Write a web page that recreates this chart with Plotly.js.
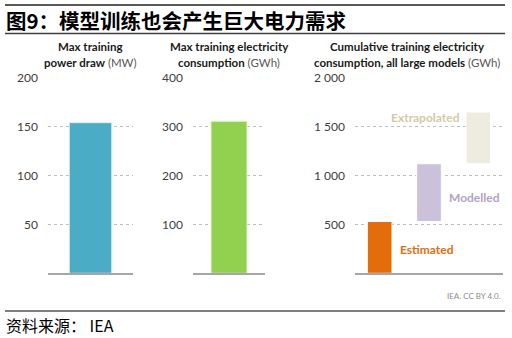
<!DOCTYPE html>
<html><head><meta charset="utf-8">
<script src="https://cdn.plot.ly/plotly-3.0.1.min.js"></script>
<style>html,body{margin:0;padding:0;background:#fff}#chart{width:512px;height:338px}</style>
</head><body><div id="chart"></div>
<script>
// Data
const powerCategory = ["Max power"];
const powerValues = [154];            // MW
const energyCategory = ["Max energy"];
const energyValues = [311];           // GWh
const cumCategories = ["Estimated", "Modelled", "Extrapolated"];
const cumLow = [0, 530, 1120];        // GWh (range bottoms)
const cumHigh = [530, 1120, 1650];    // GWh (range tops)
const powerTicks = [50, 100, 150, 200];
const energyTicks = [100, 200, 300, 400];
const cumTicks = [500, 1000, 1500, 2000];
const cumTickText = ["500", "1 000", "1 500", "2 000"];
const cumColors = ["#e46c0a", "#ccc1da", "#eeece1"];
const cumLabelColors = ["#e46c0a", "#b3a2c7", "#d4caa6"];

const W = 512, H = 338;
const px = v => v / W;
const py = v => 1 - v / H;
const yDom = [py(273.3), py(77.7)];
const font = "Lato, 'Open Sans', sans-serif";

const traces = [
  {type: "bar", x: powerCategory, y: powerValues, xaxis: "x", yaxis: "y",
   width: 0.5, marker: {color: "#4bacc6", line: {color: "#dbeef3", width: 1}}, hoverinfo: "skip"},
  {type: "bar", x: energyCategory, y: energyValues, xaxis: "x2", yaxis: "y2",
   width: 0.5, marker: {color: "#92d050", line: {color: "#e4f3d4", width: 1}}, hoverinfo: "skip"},
  {type: "bar", x: cumCategories, base: cumLow, y: cumHigh.map((h, i) => h - cumLow[i]),
   xaxis: "x3", yaxis: "y3", width: 0.5,
   marker: {color: cumColors, line: {color: "#ffffff", width: 1}}, hoverinfo: "skip"}
];

function yax(range, ticks, text) {
  const a = {range: range, domain: yDom, tickvals: ticks, showgrid: true, gridcolor: "#bfbfbf",
    griddash: "dot", gridwidth: 1, zeroline: false, showline: false, ticks: "",
    ticklabelstandoff: 9, tickfont: {family: font, size: 12, color: "#404040"}, fixedrange: true};
  if (text) a.ticktext = text;
  return a;
}
function xax(domain, anchor, range) {
  const a = {domain: domain, anchor: anchor, showticklabels: false, ticks: "", showgrid: false,
    zeroline: false, showline: true, linecolor: "#a6a6a6", linewidth: 1.5, fixedrange: true};
  if (range) a.range = range;
  return a;
}

const titleFont = {family: font, size: 11.5, color: "#1a1a1a"};
const unit = s => "<span style='font-weight:normal;color:#595959'>" + s + "</span>";
const annotations = [
  {text: "<b>Max training</b>", x: px(90), y: py(47)},
  {text: "<b>power draw</b> " + unit("(MW)"), x: px(90), y: py(63)},
  {text: "<b>Max training electricity</b>", x: px(229), y: py(47)},
  {text: "<b>consumption</b> " + unit("(GWh)"), x: px(229), y: py(63)},
  {text: "<b>Cumulative training electricity</b>", x: px(407), y: py(47)},
  {text: "<b>consumption, all large models</b> " + unit("(GWh)"), x: px(407), y: py(63)}
].map(a => Object.assign({xref: "paper", yref: "paper", showarrow: false, xanchor: "center",
  yanchor: "middle", font: titleFont}, a));

annotations.push(
  {text: "<b>" + cumCategories[2] + "</b>", x: px(462), y: py(117), xanchor: "right", font: {family: font, size: 12, color: cumLabelColors[2]}},
  {text: "<b>" + cumCategories[1] + "</b>", x: px(447), y: py(197), xanchor: "left", font: {family: font, size: 12, color: cumLabelColors[1]}},
  {text: "<b>" + cumCategories[0] + "</b>", x: px(398), y: py(249), xanchor: "left", font: {family: font, size: 12, color: cumLabelColors[0]}},
  {text: "IEA. CC BY 4.0.", x: px(503), y: py(296), xanchor: "right", font: {family: font, size: 8, color: "#8c8c8c"}},
  {text: "<b>图9：模型训练也会产生巨大电力需求</b>", x: px(4), y: py(20), xanchor: "left",
   font: {family: "'Noto Sans CJK SC', sans-serif", size: 20.5, color: "#000000"}},
  {text: "资料来源： IEA", x: px(4), y: py(325), xanchor: "left",
   font: {family: "'Noto Sans CJK SC', sans-serif", size: 16, color: "#000000"}}
);
annotations.forEach(a => { a.xref = "paper"; a.yref = "paper"; a.showarrow = false; if (!a.yanchor) a.yanchor = "middle"; });

const shapes = [
  {type: "line", xref: "paper", yref: "paper", x0: px(5), x1: px(505), y0: py(5), y1: py(5), line: {color: "#595959", width: 2}},
  {type: "line", xref: "paper", yref: "paper", x0: px(5), x1: px(505), y0: py(33.5), y1: py(33.5), line: {color: "#404040", width: 1.5}},
  {type: "line", xref: "paper", yref: "paper", x0: px(5), x1: px(505), y0: py(311), y1: py(311), line: {color: "#7f7f7f", width: 2}}
];

const layout = {
  width: W, height: H, margin: {l: 0, r: 0, t: 0, b: 0},
  paper_bgcolor: "#ffffff", plot_bgcolor: "rgba(0,0,0,0)", showlegend: false,
  xaxis: xax([px(48), px(133)], "y"),
  yaxis: yax([0, 200], powerTicks),
  xaxis2: xax([px(193), px(265)], "y2"),
  yaxis2: Object.assign(yax([0, 400], energyTicks), {anchor: "x2"}),
  xaxis3: xax([px(355), px(503)], "y3", [-0.5, 2.5]),
  yaxis3: Object.assign(yax([0, 2000], cumTicks, cumTickText), {anchor: "x3"}),
  annotations: annotations, shapes: shapes
};
layout.yaxis.anchor = "x";

Plotly.newPlot("chart", traces, layout, {displayModeBar: false, staticPlot: true});
</script></body></html>
